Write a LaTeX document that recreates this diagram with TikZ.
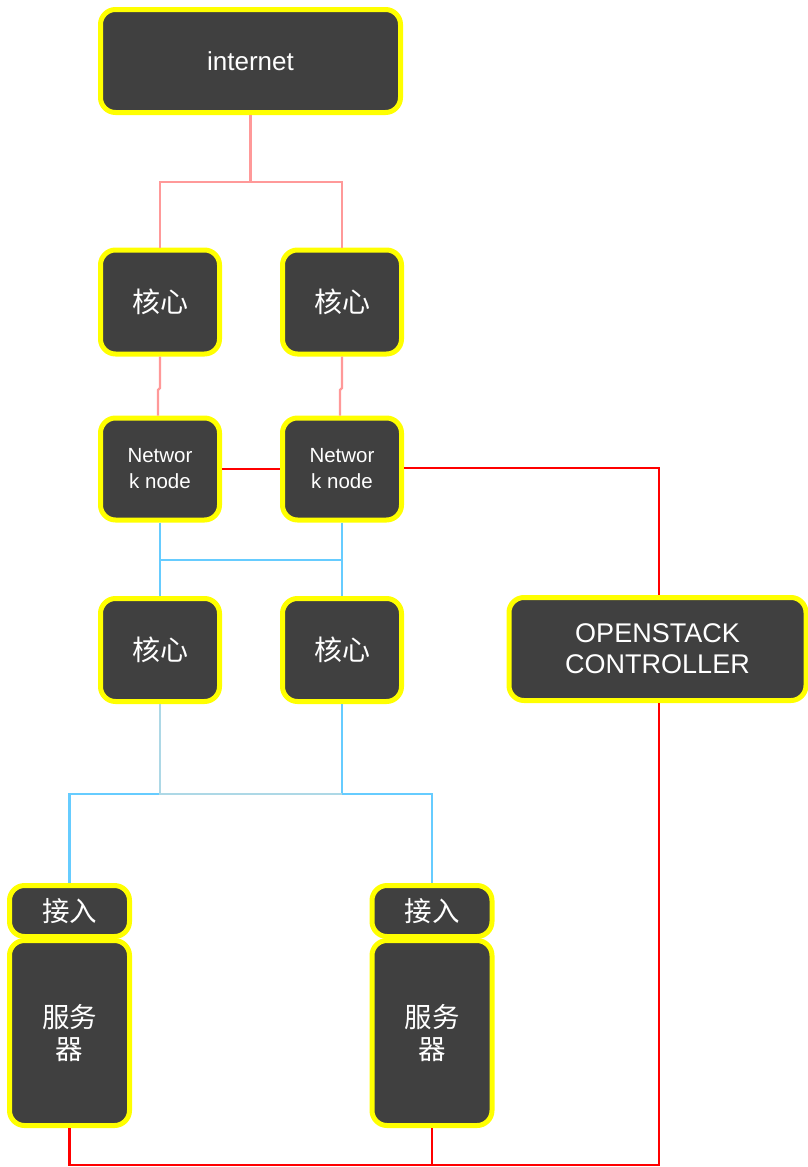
\documentclass[tikz,border=0pt]{standalone}
\usepackage{fontspec}
\setmainfont{Liberation Sans}
\newfontfamily\cjk{Noto Sans CJK SC}
\definecolor{boxfill}{HTML}{404040}
\definecolor{ylw}{HTML}{FFFF00}
\definecolor{pinkline}{HTML}{FF9999}
\definecolor{redline}{HTML}{FF0000}
\definecolor{blueline}{HTML}{66CCFF}
\definecolor{lblueline}{HTML}{ADD8E6}
\tikzset{
  box/.style={draw=ylw, line width=5pt, fill=boxfill, rounded corners=15pt, text=white, align=center, inner sep=0pt},
  pink/.style={draw=pinkline, line width=2.2pt},
  redc/.style={draw=redline, line width=2.2pt},
  bluec/.style={draw=blueline, line width=2.2pt},
  lbluec/.style={draw=lblueline, line width=2.2pt},
}
\begin{document}
\begin{tikzpicture}[x=1pt,y=-1pt]
\useasboundingbox (0,0) rectangle (808,1167);
\node[box, minimum width=300pt, minimum height=103pt, font=\fontsize{26}{30}\selectfont] (inet) at (250.5,61) {internet};
\node[box, minimum width=119pt, minimum height=104pt, font=\cjk\fontsize{28}{32}\selectfont] (c1) at (160,302) {核心};
\node[box, minimum width=119pt, minimum height=104pt, font=\cjk\fontsize{28}{32}\selectfont] (c2) at (342,302) {核心};
\node[box, minimum width=119pt, minimum height=102pt, font=\fontsize{20.5}{26}\selectfont] (n1) at (160,469) {Networ\\k node};
\node[box, minimum width=119pt, minimum height=102pt, font=\fontsize{20.5}{26}\selectfont] (n2) at (342,469) {Networ\\k node};
\node[box, minimum width=119pt, minimum height=103pt, font=\cjk\fontsize{28}{32}\selectfont] (c3) at (160,650) {核心};
\node[box, minimum width=119pt, minimum height=103pt, font=\cjk\fontsize{28}{32}\selectfont] (c4) at (342,650) {核心};
\node[box, minimum width=297pt, minimum height=103pt, font=\fontsize{27}{31}\selectfont] (osc) at (657.5,649) {OPENSTACK\\CONTROLLER};
\node[box, minimum width=120pt, minimum height=51pt, font=\cjk\fontsize{27.5}{30}\selectfont] (a1) at (69.5,911) {接入};
\node[box, minimum width=120pt, minimum height=185pt, font=\cjk\fontsize{27.5}{32}\selectfont] (s1) at (69.5,1033) {服务\\器};
\node[box, minimum width=120pt, minimum height=51pt, font=\cjk\fontsize{27.5}{30}\selectfont] (a2) at (432,911) {接入};
\node[box, minimum width=120pt, minimum height=185pt, font=\cjk\fontsize{27.5}{32}\selectfont] (s2) at (432,1033) {服务\\器};

% internet to cores
\coordinate (t1) at (250.5,182);
\draw[pink] (inet.south) -- (t1) -| (c1.north);
\draw[pink] (t1) -| (c2.north);
% cores to network nodes
\draw[pink] (c1.south) -- (160,388) -- (158,390) -- (n1.north -| 158,0);
\draw[pink] (c2.south) -- (342,388) -- (340,390) -- (n2.north -| 340,0);
% red
\draw[redc] (n1.east) -- (n2.west);
\coordinate (r1) at (659,468);
\draw[redc] (n2.east |- r1) -- (r1) -- (osc.north -| r1);
\coordinate (r2) at (659,1165);
\draw[redc] (osc.south -| r2) -- (r2) -| (s1.south);
\draw[redc] (s2.south) -- (s2.south |- r2);
% blue
\draw[bluec] (n1.south) -- (c3.north);
\draw[bluec] (n2.south) -- (c4.north);
\draw[bluec] (160,560) -- (342,560);
\coordinate (b1) at (160,794);
\coordinate (b2) at (342,794);
\draw[bluec] (b1) -| (a1.north);
\draw[bluec] (c4.south) -- (b2) -| (a2.north);
\draw[lbluec] (c3.south) -- (b1) -- (b2);
\end{tikzpicture}
\end{document}
